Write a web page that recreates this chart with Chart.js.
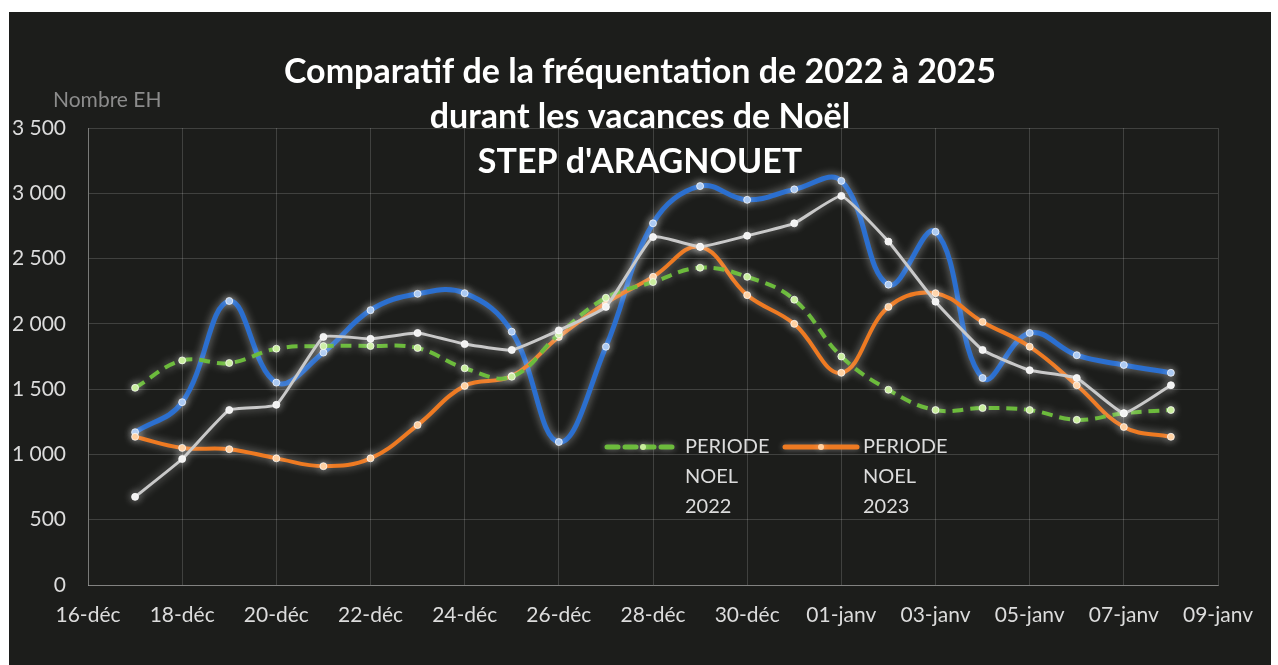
<!DOCTYPE html>
<html lang="fr">
<head>
<meta charset="utf-8">
<script src="https://cdn.jsdelivr.net/npm/chart.js@4/dist/chart.umd.min.js"></script>
<style>
  html, body { margin: 0; background: #fff; }
  #frame { position: absolute; left: 9px; top: 12px; width: 1262px; height: 653px; background: #1c1d1b; }
</style>
</head>
<body>
<div id="frame"><canvas id="chart"></canvas></div>
<script>
// Axe des jours (16-déc -> 09-janv), un libellé sur deux affiché
const jours = ['16-déc', '17-déc', '18-déc', '19-déc', '20-déc', '21-déc', '22-déc', '23-déc', '24-déc',
  '25-déc', '26-déc', '27-déc', '28-déc', '29-déc', '30-déc', '31-déc', '01-janv', '02-janv', '03-janv',
  '04-janv', '05-janv', '06-janv', '07-janv', '08-janv', '09-janv'];

// Valeurs du 17-déc au 08-janv
const noel2022 = [1510, 1720, 1700, 1810, 1830, 1830, 1815, 1660, 1595, 1920, 2200, 2320, 2430, 2360, 2185, 1750, 1495, 1340, 1355, 1340, 1265, 1315, 1340];
const noel2023 = [1135, 1050, 1040, 970, 910, 970, 1225, 1525, 1600, 1900, 2160, 2360, 2590, 2220, 2000, 1625, 2130, 2235, 2015, 1825, 1530, 1210, 1135];
const noel2024 = [1170, 1400, 2175, 1550, 1780, 2105, 2230, 2235, 1940, 1095, 1825, 2770, 3055, 2950, 3030, 3095, 2300, 2705, 1585, 1930, 1760, 1685, 1625];
const noel2025 = [675, 965, 1340, 1380, 1900, 1885, 1930, 1845, 1800, 1950, 2130, 2665, 2590, 2675, 2770, 2980, 2630, 2170, 1800, 1645, 1585, 1315, 1530];

const titre = ['Comparatif de la fréquentation de 2022 à 2025', 'durant les vacances de Noël', "STEP d'ARAGNOUET"];
const axeY = 'Nombre EH';

const GRID = 'rgba(255,255,255,0.16)';
const TXT = '#dcdcdc';
const FONT = 'Lato, "Open Sans", sans-serif';

// remplit les bords (16-déc et 09-janv) sans point
const pad = arr => [null, ...arr, null];
const fmt = v => String(v).replace(/\B(?=(\d{3})+(?!\d))/g, ' ');

// halo blanc autour des courbes, comme sur le scan
const glow = {
  id: 'glow',
  beforeDatasetDraw(chart) {
    chart.ctx.save();
    chart.ctx.shadowColor = 'rgba(255,255,255,0.5)';
    chart.ctx.shadowBlur = 9;
  },
  afterDatasetDraw(chart) { chart.ctx.restore(); },
};

// titre + libellé d'axe + légende partielle dessinés à la main
const decor = {
  id: 'decor',
  afterDraw(chart) {
    const { ctx, chartArea: a, width } = chart;
    ctx.save();
    ctx.fillStyle = '#ffffff';
    ctx.font = 'bold 34px ' + FONT;
    ctx.textAlign = 'center';
    ctx.textBaseline = 'middle';
    titre.forEach((t, i) => ctx.fillText(t, width / 2, 60 + i * 45));

    ctx.fillStyle = '#8c8c8c';
    ctx.font = '21px ' + FONT;
    ctx.textAlign = 'left';
    ctx.fillText(axeY, 44, 88);

    // légende : seulement 2022 et 2023 visibles
    [[0, 519], [1, 697]].forEach(([idx, dx]) => {
      const ds = chart.data.datasets[idx];
      const x = a.left + dx, y = a.top + 319;
      ctx.save();
      ctx.strokeStyle = ds.borderColor;
      ctx.lineWidth = ds.borderWidth + 1;
      ctx.lineCap = 'round';
      ctx.setLineDash(ds.borderDash || []);
      ctx.shadowColor = 'rgba(255,255,255,0.4)';
      ctx.shadowBlur = 6;
      ctx.beginPath(); ctx.moveTo(x, y); ctx.lineTo(x + 72, y); ctx.stroke();
      ctx.setLineDash([]);
      ctx.fillStyle = ds.pointBackgroundColor;
      ctx.beginPath(); ctx.arc(x + 36, y, 3, 0, Math.PI * 2); ctx.fill();
      ctx.restore();
      ctx.fillStyle = TXT;
      ctx.font = '20px ' + FONT;
      ctx.textAlign = 'left';
      ds.label.split(' ').forEach((w, i) => ctx.fillText(w, x + 78, y + i * 30));
    });
    ctx.restore();
  },
};

new Chart(document.getElementById('chart'), {
  type: 'line',
  data: {
    labels: jours,
    datasets: [
      {
        label: 'PERIODE NOEL 2022', data: pad(noel2022), order: 1,
        borderColor: '#6cbb3c', borderWidth: 4, borderDash: [11, 7], tension: 0.4,
        pointRadius: 3.5, pointBackgroundColor: '#c8ee9c', pointBorderColor: 'rgba(255,255,255,0.7)', pointBorderWidth: 1,
      },
      {
        label: 'PERIODE NOEL 2023', data: pad(noel2023), order: 2,
        borderColor: '#ee7a22', borderWidth: 4, tension: 0.4,
        pointRadius: 3.5, pointBackgroundColor: '#ffd0a0', pointBorderColor: 'rgba(255,255,255,0.7)', pointBorderWidth: 1,
      },
      {
        label: 'PERIODE NOEL 2024', data: pad(noel2024), order: 3,
        borderColor: '#2b6fcf', borderWidth: 5, tension: 0.4,
        pointRadius: 3.5, pointBackgroundColor: '#a9c8f2', pointBorderColor: 'rgba(255,255,255,0.7)', pointBorderWidth: 1,
      },
      {
        label: 'PERIODE NOEL 2025', data: pad(noel2025), order: 0,
        borderColor: '#c9c9c9', borderWidth: 3, tension: 0.12,
        pointRadius: 3.5, pointBackgroundColor: '#f2f2f2', pointBorderColor: 'rgba(255,255,255,0.8)', pointBorderWidth: 1,
      },
    ],
  },
  options: {
    responsive: true,
    maintainAspectRatio: false,
    animation: false,
    spanGaps: false,
    layout: { padding: { top: 116, right: 53, left: 0, bottom: 0 } },
    plugins: { legend: { display: false }, tooltip: { enabled: false } },
    scales: {
      x: {
        afterFit: s => { s.height = 80; },
        grid: { color: c => c.index % 2 === 0 ? GRID : 'transparent', drawTicks: false },
        border: { color: 'rgba(255,255,255,0.35)' },
        ticks: {
          autoSkip: false, maxRotation: 0, padding: 18, color: TXT, font: { family: FONT, size: 21 },
          callback: (v, i) => i % 2 === 0 ? jours[i] : '',
        },
      },
      y: {
        min: 0, max: 3500,
        afterFit: s => { s.width = 79; },
        grid: { color: GRID, drawTicks: false },
        border: { color: 'rgba(255,255,255,0.3)' },
        ticks: { stepSize: 500, padding: 22, color: TXT, font: { family: FONT, size: 21 }, callback: v => fmt(v) },
      },
    },
  },
  plugins: [glow, decor],
});
</script>
</body>
</html>
